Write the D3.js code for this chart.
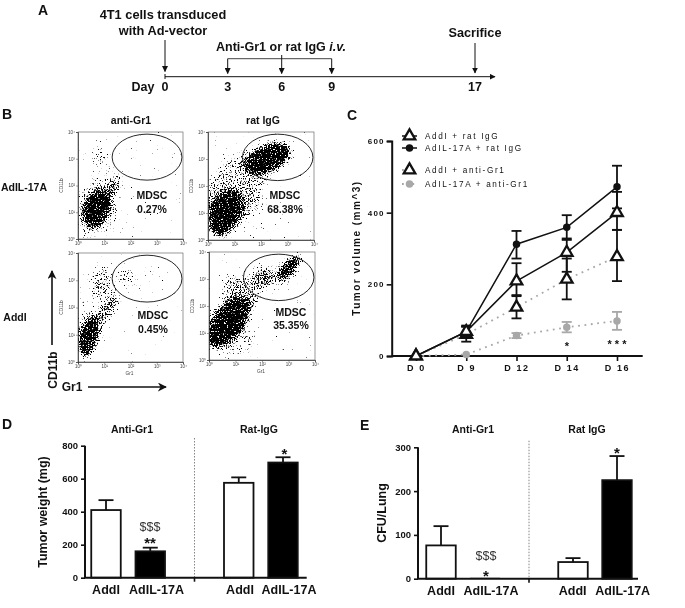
<!DOCTYPE html>
<html><head><meta charset="utf-8">
<script src="https://cdn.jsdelivr.net/npm/d3@7"></script>
<style>
html,body{margin:0;padding:0;background:#fff}
svg{display:block;filter:blur(0.3px)}
text{font-family:"Liberation Sans",Arial,sans-serif;fill:#111}
</style></head><body>
<svg id="c" width="685" height="608" viewBox="0 0 685 608"></svg>
<script>
// ---------- Panel A
const timelineDays = [0, 3, 6, 9, 17];
const treatmentDays = [3, 6, 9];
// ---------- Panel B: gate and population estimates in decades of fluorescence
const flowTicks = [1, 10, 100, 1000, 10000];
const flowColumns = ["anti-Gr1", "rat IgG"];
const flowRows = ["AdIL-17A", "AddI"];
const mdscValues = ["0.27%", "68.38%", "0.45%", "35.35%"];
// [x decade, y decade, x radius, y radius, tilt, density]
const cloudsP1 = [[.72,1.2,.85,1.25,15,.32],[.72,1.16,.52,.78,22,1.3],[1.3,1.9,.16,.62,38,.85],[.9,3.1,.30,.28,0,.5],[.9,2.6,.6,.6,0,.16]];
const cloudsP2 = [[2.25,3.02,.95,.52,-24,1.6],[.65,1.0,.6,.92,22,1.4],[1.05,1.9,1.0,1.55,35,.5],[1.5,1.0,.7,.8,0,.2]];
const cloudsP3 = [[.4,.94,.38,.78,14,1.35],[1.1,1.95,.22,.72,38,.68],[.85,2.95,.42,.55,0,.48],[1.8,3.1,.33,.35,0,.46],[2.6,3.1,.8,.6,0,.1],[.7,1.7,.7,1.3,25,.22]];
const cloudsP4 = [[.72,1.4,.62,1.12,38,1.45],[1.2,2.5,.75,.68,30,.56],[2.05,3.06,.38,.38,0,.75],[3.02,3.4,.26,.62,42,1.7],[2.5,3.1,.8,.4,-10,.22],[1.0,.7,.8,.6,0,.32]];
const flowClouds = [cloudsP1, cloudsP2, cloudsP3, cloudsP4];
const flowGate = [2.63, 3.06, 1.33, .86];
// ---------- Panel C
const volumeDays = ["D 0", "D 9", "D 12", "D 14", "D 16"];
const volumeTicks = [0, 200, 400, 600];
const addiRat = [0, 68, 209, 289, 400];
const addiRatLow = [0, 55, 167, 235, 352];
const addiRatHigh = [0, 82, 259, 328, 458];
const il17Rat = [0, 68, 312, 359, 472];
const il17RatLow = [0, 55, 272, 324, 412];
const il17RatHigh = [0, 82, 349, 393, 531];
const addiAnti = [0, 60, 136, 214, 277];
const addiAntiLow = [0, 40, 105, 158, 209];
const addiAntiHigh = [0, 85, 170, 272, 352];
const il17Anti = [0, 4, 57, 80, 98];
const il17AntiLow = [0, 2, 50, 66, 73];
const il17AntiHigh = [0, 6, 64, 95, 123];
const volumeNames = ["AddI + rat IgG", "AdIL-17A + rat IgG", "AddI + anti-Gr1", "AdIL-17A + anti-Gr1"];
// ---------- Panels D, E
const barSlots = ["AddI a", "AdIL-17A a", "gap", "AddI b", "AdIL-17A b"];
const weightTicks = [0, 200, 400, 600, 800];
const weightValues = [410, 160, null, 575, 698];
const weightErrors = [470, 182, null, 608, 730];
const cfuTicks = [0, 100, 200, 300];
const cfuValues = [76, 2, null, 38, 225];
const cfuErrors = [120, null, null, 47, 280];

const svg = d3.select("#c");
const defs = svg.append("defs");
const marker = defs.append("marker").attr("id","ah").attr("viewBox","0 0 10 10").attr("refX",9).attr("refY",5)
  .attr("markerWidth",6).attr("markerHeight",6).attr("markerUnits","userSpaceOnUse").attr("orient","auto");
marker.append("path").attr("d","M0,0L10,5L0,10Z").attr("fill","#111");
const bigM = defs.append("marker").attr("id","ahb").attr("viewBox","0 0 10 10").attr("refX",9).attr("refY",5)
  .attr("markerWidth",9).attr("markerHeight",9).attr("markerUnits","userSpaceOnUse").attr("orient","auto");
bigM.append("path").attr("d","M0,0L10,5L0,10L3,5Z").attr("fill","#111");

// speckle filter: thresholds a soft density shape against fine noise
const f = defs.append("filter").attr("id","speckle").attr("x","-5%").attr("y","-5%").attr("width","110%").attr("height","110%")
  .attr("filterUnits","objectBoundingBox").attr("color-interpolation-filters","sRGB");
f.append("feGaussianBlur").attr("in","SourceAlpha").attr("stdDeviation",3).attr("result","b");
f.append("feTurbulence").attr("type","fractalNoise").attr("baseFrequency",.77).attr("numOctaves",2).attr("seed",7).attr("result","t");
f.append("feColorMatrix").attr("in","t").attr("type","matrix")
  .attr("values","0 0 0 0 0  0 0 0 0 0  0 0 0 0 0  0 0 0 1 0").attr("result","n");
f.append("feComposite").attr("in","b").attr("in2","n").attr("operator","arithmetic")
  .attr("k1",0).attr("k2",1.1).attr("k3",2.2).attr("k4",-1.72).attr("result","m");
const ct = f.append("feComponentTransfer").attr("in","m").attr("result","bin");
ct.append("feFuncA").attr("type","linear").attr("slope",5).attr("intercept",0);
f.append("feFlood").attr("flood-color","#000").attr("result","k");
f.append("feComposite").attr("in","k").attr("in2","bin").attr("operator","in");

function txt(x, y, s, size, opt = {}) {
  return svg.append("text").attr("x", x).attr("y", y).attr("text-anchor", opt.anchor || "middle")
    .attr("dominant-baseline", "central").attr("font-size", size)
    .attr("font-weight", opt.weight || "bold").attr("letter-spacing", opt.ls || null)
    .attr("font-style", opt.style || null)
    .attr("transform", opt.rot ? `rotate(${opt.rot} ${x} ${y})` : null)
    .attr("font-family", opt.family || null).text(s);
}
function panelLetter(x, y, s) { txt(x, y, s, 14, {anchor:"start", family:"'Open Sans'"}); }

// ---------- A
panelLetter(38, 10, "A"); 
const tx = d3.scaleLinear().domain(timelineDays).range([165, 227.7, 281.7, 331.7, 475]);
const tl = svg.append("g").attr("stroke","#111").attr("fill","none");
tl.append("line").attr("x1",tx(0)).attr("x2",495).attr("y1",76.7).attr("y2",76.7).attr("stroke-width",1).attr("marker-end","url(#ah)");
tl.append("line").attr("x1",tx(0)).attr("x2",tx(0)).attr("y1",74).attr("y2",79).attr("stroke-width",1);
tl.append("line").attr("x1",tx(0)).attr("x2",tx(0)).attr("y1",40).attr("y2",71.5).attr("stroke-width",1).attr("marker-end","url(#ah)");
tl.append("line").attr("x1",tx(17)).attr("x2",tx(17)).attr("y1",43).attr("y2",73).attr("stroke-width",1).attr("marker-end","url(#ah)");
tl.append("line").attr("x1",tx(3)).attr("x2",tx(9)).attr("y1",58.7).attr("y2",58.7).attr("stroke-width",.8);
treatmentDays.forEach(d => tl.append("line").attr("x1",tx(d)).attr("x2",tx(d)).attr("y1",d===6?55:58.7).attr("y2",73.5).attr("stroke-width",1).attr("marker-end","url(#ah)"));
txt(163, 14, "4T1 cells transduced", 12.8);
txt(163, 30, "with Ad-vector", 12.8);
const ag = txt(281, 47, "Anti-Gr1 or rat IgG ", 12.5);
ag.append("tspan").attr("font-style","italic").text("i.v.");
txt(475, 33, "Sacrifice", 12.7);
txt(143, 87, "Day", 12.5);
timelineDays.forEach(d => txt(tx(d), 87, String(d), 12.5));

// ---------- B
panelLetter(2, 114, "B");
const boxes = [[78,183,132,239],[208,314,132,240],[78,183,253,362],[209,315,252,360]];
flowColumns.forEach((c,i) => txt(i?263:131, 120, c, 10.5));
txt(24, 187, flowRows[0], 10.5);
txt(15, 317, flowRows[1], 10.5);
const sup = "⁰¹²³⁴";
const mdscPos = [[152,195,209],[285,195,209],[153,315,329],[291,312,325]];
boxes.forEach((b,i) => {
  const x = d3.scaleLog().domain([1,1e4]).range([b[0],b[1]]);
  const y = d3.scaleLog().domain([1,1e4]).range([b[3],b[2]]);
  const cid = "clip"+i;
  defs.append("clipPath").attr("id",cid).append("rect").attr("x",b[0]).attr("y",b[2]).attr("width",b[1]-b[0]).attr("height",b[3]-b[2]);
  const g = svg.append("g").attr("clip-path",`url(#${cid})`).append("g").attr("filter","url(#speckle)");
  g.append("rect").attr("x",b[0]-8).attr("y",b[2]-8).attr("width",b[1]-b[0]+16).attr("height",b[3]-b[2]+16).attr("fill","#000").attr("fill-opacity",.004);
  g.selectAll("ellipse").data(flowClouds[i]).join("ellipse")
    .attr("cx",d=>x(10**d[0])).attr("cy",d=>y(10**d[1]))
    .attr("rx",d=>x(10**d[2])-b[0]).attr("ry",d=>b[3]-y(10**d[3]))
    .attr("transform",d=>`rotate(${d[4]} ${x(10**d[0])} ${y(10**d[1])})`)
    .attr("fill","#000").attr("fill-opacity",d=>Math.min(1,d[5]*.85));
  svg.append("rect").attr("x",b[0]).attr("y",b[2]).attr("width",b[1]-b[0]).attr("height",b[3]-b[2]).attr("fill","none").attr("stroke","#555").attr("stroke-width",.6);
  const fmt = d => "10"+sup[Math.round(Math.log10(d))];
  const ax = svg.append("g").attr("transform",`translate(0,${b[3]})`).call(d3.axisBottom(x).tickValues(flowTicks).tickFormat(fmt).tickSize(2).tickPadding(1));
  const ay = svg.append("g").attr("transform",`translate(${b[0]},0)`).call(d3.axisLeft(y).tickValues(flowTicks).tickFormat(fmt).tickSize(2).tickPadding(1));
  [ax,ay].forEach(a => { a.selectAll("text").attr("font-size",4.5).attr("font-family","'Liberation Sans'").style("fill","#444"); a.selectAll("line").attr("stroke","#444").attr("stroke-width",.5); a.select(".domain").attr("stroke","#222").attr("stroke-width",.7); });
  svg.append("ellipse").attr("cx",x(10**flowGate[0])).attr("cy",y(10**flowGate[1]))
    .attr("rx",x(10**flowGate[2])-b[0]).attr("ry",b[3]-y(10**flowGate[3]))
    .attr("fill","none").attr("stroke","#111").attr("stroke-width",.9);
  txt(mdscPos[i][0], mdscPos[i][1], "MDSC", 10.5);
  txt(mdscPos[i][0], mdscPos[i][2], mdscValues[i], 10.5);
  txt(b[0]-17, (b[2]+b[3])/2, "CD11b", 4.8, {weight:"normal", rot:-90}).style("fill","#444");
  if (i>1) txt((b[0]+b[1])/2 - 1, b[3]+11, "Gr1", 4.8, {weight:"normal"}).style("fill","#444");
});
txt(52.7, 370, "CD11b", 12, {rot:-90});
txt(72, 387, "Gr1", 12);
svg.append("line").attr("x1",52).attr("x2",52).attr("y1",345).attr("y2",271).attr("stroke","#111").attr("stroke-width",1.6).attr("marker-end","url(#ahb)");
svg.append("line").attr("x1",88).attr("x2",166).attr("y1",387).attr("y2",387).attr("stroke","#111").attr("stroke-width",1.6).attr("marker-end","url(#ahb)");

// ---------- C
panelLetter(347, 115, "C");
const cx = d3.scalePoint().domain(volumeDays).range([416, 617]);
const cy = d3.scaleLinear().domain([0,600]).range([356,141]);
const gx = svg.append("g").attr("transform","translate(0,356)").call(d3.axisBottom(cx).tickSize(5).tickPadding(4));
const gy = svg.append("g").attr("transform","translate(391.7,0)").call(d3.axisLeft(cy).tickValues(volumeTicks).tickSize(5).tickPadding(2));
gx.select(".domain").attr("d","M391.7,0H642.7");
[gx,gy].forEach(a=>{a.select(".domain").attr("stroke","#111").attr("stroke-width",2);a.selectAll("line").attr("stroke","#111").attr("stroke-width",1.6);
  a.selectAll("text").attr("font-family","'Liberation Sans'").attr("font-weight","bold").attr("font-size",8).attr("letter-spacing",1.2);});
gx.selectAll("text").attr("font-size",9).attr("letter-spacing",1.6);
txt(356, 248, "Tumor volume (mm^3)", 10, {rot:-90, ls:1.5});
const sAddiRat = {v:addiRat, lo:addiRatLow, hi:addiRatHigh, c:"#111", mc:"#111", tri:true, dot:false};
const sIl17Rat = {v:il17Rat, lo:il17RatLow, hi:il17RatHigh, c:"#111", mc:"#111", tri:false, dot:false};
const sAddiAnti = {v:addiAnti, lo:addiAntiLow, hi:addiAntiHigh, c:"#a8a8a8", mc:"#111", tri:true, dot:true};
const sIl17Anti = {v:il17Anti, lo:il17AntiLow, hi:il17AntiHigh, c:"#a8a8a8", mc:"#a8a8a8", tri:false, dot:true};
const series = [sIl17Anti, sIl17Rat, sAddiAnti, sAddiRat];
const line = d3.line().x((d,i)=>cx(volumeDays[i])).y(d=>cy(d));
const triPath = d3.symbol().type(d3.symbolTriangle).size(58)();
const circPath = d3.symbol().type(d3.symbolCircle).size(44)();
function mark(g, s, x, y) {
  g.append("path").attr("d", s.tri?triPath:circPath).attr("transform",`translate(${x},${y})`)
   .attr("fill", s.tri?"#fff":s.mc).attr("stroke", s.tri?"#111":"none").attr("stroke-width",2.3);
}
series.forEach(s=>{
  const g = svg.append("g");
  g.append("path").attr("d",line(s.v)).attr("fill","none").attr("stroke",s.c)
    .attr("stroke-width",s.dot?1.8:1.5).attr("stroke-dasharray",s.dot?"1.8,4.6":null);
  const eb = s.tri ? "#111" : s.c;
  s.v.forEach((v,i)=>{
    if(i===0) return;
    const x=cx(volumeDays[i]);
    if(s.hi[i]-s.lo[i]>6){
      g.append("line").attr("x1",x).attr("x2",x).attr("y1",cy(s.lo[i])).attr("y2",cy(s.hi[i])).attr("stroke",eb).attr("stroke-width",1.8);
      [s.lo[i],s.hi[i]].forEach(e=>g.append("line").attr("x1",x-5).attr("x2",x+5).attr("y1",cy(e)).attr("y2",cy(e)).attr("stroke",eb).attr("stroke-width",1.8));
    }
  });
  s.v.forEach((v,i)=>mark(g,s,cx(volumeDays[i]),cy(v)));
});
const legendY = [136,148,170,184];
const legendSeries = [sAddiRat,sIl17Rat,sAddiAnti,sIl17Anti];
legendSeries.forEach((s,i)=>{
  const g = svg.append("g");
  g.append("line").attr("x1",402).attr("x2",417).attr("y1",legendY[i]).attr("y2",legendY[i]).attr("stroke",s.c).attr("stroke-width",s.dot?1.8:1.5).attr("stroke-dasharray",s.dot?"1.8,3.4":null);
  mark(g,s,409.5,legendY[i]);
  txt(425,legendY[i],volumeNames[i],8.2,{anchor:"start",weight:"normal",ls:1.65});
});
txt(567, 346, "*", 11);
txt(617, 343.5, "* * *", 11);

// ---------- D, E
function barPanel(o){
  const x = d3.scalePoint().domain(barSlots).range(o.xr);
  const y = d3.scaleLinear().domain([0,o.ticks[o.ticks.length-1]]).range(o.yr);
  svg.append("line").attr("x1",x("gap")).attr("x2",x("gap")).attr("y1",o.dotTop).attr("y2",o.yr[0]).attr("stroke","#777").attr("stroke-width",.9).attr("stroke-dasharray","1.5,1.5");
  const bw = 29.5;
  barSlots.forEach((k,i)=>{
    const v=o.vals[i]; if(v===null) return;
    const cxx=x(k);
    if(o.errs[i]!==null){
      svg.append("line").attr("x1",cxx).attr("x2",cxx).attr("y1",y(v)).attr("y2",y(o.errs[i])).attr("stroke","#111").attr("stroke-width",1.8);
      svg.append("line").attr("x1",cxx-7.5).attr("x2",cxx+7.5).attr("y1",y(o.errs[i])).attr("y2",y(o.errs[i])).attr("stroke","#111").attr("stroke-width",1.8);
    }
    svg.append("rect").attr("x",cxx-bw/2).attr("width",bw).attr("y",y(v)).attr("height",y(0)-y(v))
      .attr("fill",i===1||i===4?"#000":"#fff").attr("stroke",i===1&&v<5?"#ccc":"#111").attr("stroke-width",i===1&&v<5?.6:1.8);
  });
  const ay = svg.append("g").attr("transform",`translate(${o.x0},0)`).call(d3.axisLeft(y).tickValues(o.ticks).tickSize(4).tickPadding(3));
  ay.select(".domain").attr("stroke","#111").attr("stroke-width",2).attr("d",`M0,${o.yr[1]}V${o.yr[0]}`);
  ay.selectAll("line").attr("stroke","#111").attr("stroke-width",1.6);
  ay.selectAll("text").attr("font-family","'Liberation Sans'").attr("font-weight","bold").attr("font-size",9.5);
  svg.append("line").attr("x1",o.x0-1).attr("x2",o.x1).attr("y1",o.yr[0]).attr("y2",o.yr[0]).attr("stroke","#111").attr("stroke-width",2);
  svg.append("line").attr("x1",x("gap")).attr("x2",x("gap")).attr("y1",o.yr[0]).attr("y2",o.yr[0]+4).attr("stroke","#111").attr("stroke-width",1.6);
  o.labelX.forEach((lx,i)=>txt(lx,o.labelY,i%2?"AdIL-17A":"AddI",12.5));
  txt(o.t1[0],429,o.t1[1],10.5);
  txt(o.t2[0],429,o.t2[1],10.5);
  txt(o.titleX,o.titleY,o.title,12.5,{rot:-90});
}
panelLetter(2, 424, "D");
barPanel({xr:[106,283],yr:[577.7,445.7],x0:85,x1:306.7,ticks:weightTicks,vals:weightValues,errs:weightErrors,dotTop:438,
  labelX:[106,156.5,240,289],labelY:590,t1:[132,"Anti-Gr1"],t2:[259,"Rat-IgG"],titleX:43,titleY:512,title:"Tumor weight (mg)"});
txt(150,527,"$$$",12.5,{weight:"normal"}).style("fill","#333");
txt(150,542.5,"**",15);
txt(284.5,453.5,"*",15);
panelLetter(360, 425, "E");
barPanel({xr:[441,617],yr:[578.7,447.3],x0:418,x1:638,ticks:cfuTicks,vals:cfuValues,errs:cfuErrors,dotTop:440.7,
  labelX:[441,491,572.7,622.7],labelY:591,t1:[473,"Anti-Gr1"],t2:[587,"Rat IgG"],titleX:382,titleY:513,title:"CFU/Lung"});
txt(486,556,"$$$",12.5,{weight:"normal"}).style("fill","#333");
txt(486,575,"*",15);
txt(617,452,"*",15);
</script></body></html>
